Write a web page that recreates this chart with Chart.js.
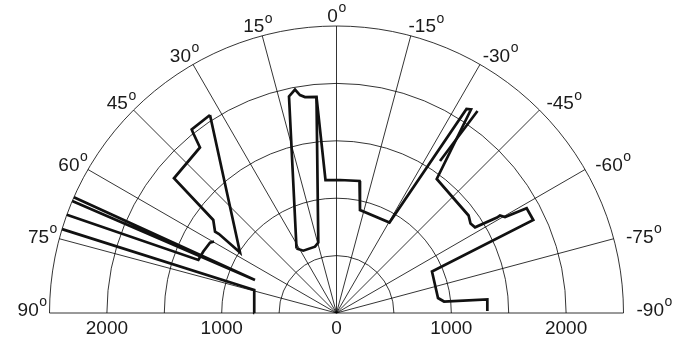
<!DOCTYPE html>
<html>
<head>
<meta charset="utf-8">
<script src="https://cdn.jsdelivr.net/npm/chart.js@4"></script>
<style>
  html, body { margin: 0; padding: 0; background: #fff; }
</style>
</head>
<body>
<canvas id="chart" width="691" height="342"></canvas>
<script>
// polar scan plot: angle in degrees (+ is left), range in mm
const angleTicks = [90, 75, 60, 45, 30, 15, 0, -15, -30, -45, -60, -75, -90];
const rangeRings = [500, 1000, 1500, 2000, 2500];
const rangeTicks = [-2000, -1000, 0, 1000, 2000];
const maxRange = 2500;

// traces, one (angle, range) pair per vertex
const wallAngle = [90, 74.4, 73.0];
const wallRange = [716, 744, 2500];

const ledgeAngle = [70.0, 69.0, 65.2, 60.9, 59.7];
const ledgeRange = [2500, 1289, 1278, 1261, 1235];

const poleAngle = [66.2, 67.95, 67.05];
const poleRange = [2500, 766, 2500];

const blockAngle = [32.57, 38.28, 38.55, 39.52, 50.34, 52.95, 56.21, 56.08, 57.91, 32.57];
const blockRange = [2047, 2036, 2002, 1869, 1839, 1345, 1273, 1233, 992, 2047];

const slotAngle = [31.8, 12.37, 10.52, 9.51, 8.30, 5.29, 14.51, 17.97, 28.05, 31.8];
const slotRange = [661, 1931, 1980, 1925, 1901, 1890, 633, 607, 615, 661];

const rightAngle = [5.29, 4.73, -1.51, -9.88, -12.85, -30.36, -32.51, -33.46, -36.79, -53.56,
                    -56.27, -58.26, -59.25, -59.19, -60.33, -61.16, -64.7, -66.5, -81.6, -83.9,
                    -84.88, -89.24];
const rightRange = [1890, 1162, 1159, 1167, 920, 913, 2107, 2125, 1458, 1430,
                    1404, 1419, 1627, 1658, 1689, 1891, 1896, 907, 894, 942,
                    1319, 1314];

const stubAngle = [-34.25, -34.91];
const stubRange = [1602, 2146];

function toXY(angles, ranges) {
    return angles.map(function(a, i) {
        const t = a * Math.PI / 180;
        return { x: -ranges[i] * Math.sin(t), y: ranges[i] * Math.cos(t) };
    });
}

const traces = [
    [wallAngle, wallRange],
    [ledgeAngle, ledgeRange],
    [poleAngle, poleRange],
    [blockAngle, blockRange],
    [slotAngle, slotRange],
    [rightAngle, rightRange],
    [stubAngle, stubRange]
];

const FONT = '"Liberation Sans", Arial, sans-serif';
const TEXT = '#1a1a1a';

const polarGrid = {
    id: 'polarGrid',
    beforeDatasetsDraw(chart) {
        const ctx = chart.ctx;
        const xs = chart.scales.x, ys = chart.scales.y;
        const cx = xs.getPixelForValue(0), cy = ys.getPixelForValue(0);
        const R = xs.getPixelForValue(maxRange) - cx;
        ctx.save();
        ctx.strokeStyle = '#000';
        ctx.lineWidth = 0.8;
        rangeRings.forEach(function(r) {
            ctx.beginPath();
            ctx.arc(cx, cy, xs.getPixelForValue(r) - cx, Math.PI, 2 * Math.PI);
            ctx.stroke();
        });
        angleTicks.forEach(function(a) {
            const t = a * Math.PI / 180;
            ctx.beginPath();
            ctx.moveTo(cx, cy);
            ctx.lineTo(xs.getPixelForValue(-maxRange * Math.sin(t)), ys.getPixelForValue(maxRange * Math.cos(t)));
            ctx.stroke();
        });

        // angle labels with a superscript "o"
        ctx.fillStyle = TEXT;
        ctx.textBaseline = 'alphabetic';
        ctx.textAlign = 'left';
        angleTicks.forEach(function(a) {
            const t = a * Math.PI / 180;
            const num = String(a);
            ctx.font = '19px ' + FONT;
            const wn = ctx.measureText(num).width;
            ctx.font = '14px ' + FONT;
            const wo = ctx.measureText('o').width;
            const w = wn + wo;
            const px = cx - (R + 3) * Math.sin(t);
            const py = cy - (R + 3) * Math.cos(t);
            const lx = px - (w / 2) * Math.sin(t) + (a < 0 ? 10 : 0);
            const ly = py - 8 * Math.cos(t) - (Math.abs(a) === 90 ? 4 : 0);
            ctx.font = '19px ' + FONT;
            ctx.fillText(num, lx - w / 2, ly + 6.8);
            ctx.font = '14px ' + FONT;
            ctx.fillText('o', lx - w / 2 + wn + 0.5, ly - 2.6);
        });

        // range labels along the baseline
        ctx.font = '19px ' + FONT;
        ctx.textAlign = 'center';
        rangeTicks.forEach(function(v) {
            ctx.fillText(String(Math.abs(v)), xs.getPixelForValue(v), cy + 21.3);
        });
        ctx.restore();
    }
};

const ctx = document.getElementById('chart').getContext('2d');
new Chart(ctx, {
    type: 'scatter',
    data: {
        datasets: traces.map(function(tr) {
            return {
                data: toXY(tr[0], tr[1]),
                showLine: true,
                borderColor: '#111',
                borderWidth: 2.7,
                pointRadius: 0,
                tension: 0,
                clip: false
            };
        })
    },
    options: {
        responsive: false,
        animation: false,
        devicePixelRatio: 1,
        layout: { padding: { left: 49.5, right: 67.5, top: 26, bottom: 29 } },
        plugins: { legend: { display: false }, tooltip: { enabled: false } },
        scales: {
            x: { type: 'linear', min: -maxRange, max: maxRange, display: false },
            y: { type: 'linear', min: 0, max: maxRange, display: false }
        }
    },
    plugins: [polarGrid]
});
</script>
</body>
</html>
